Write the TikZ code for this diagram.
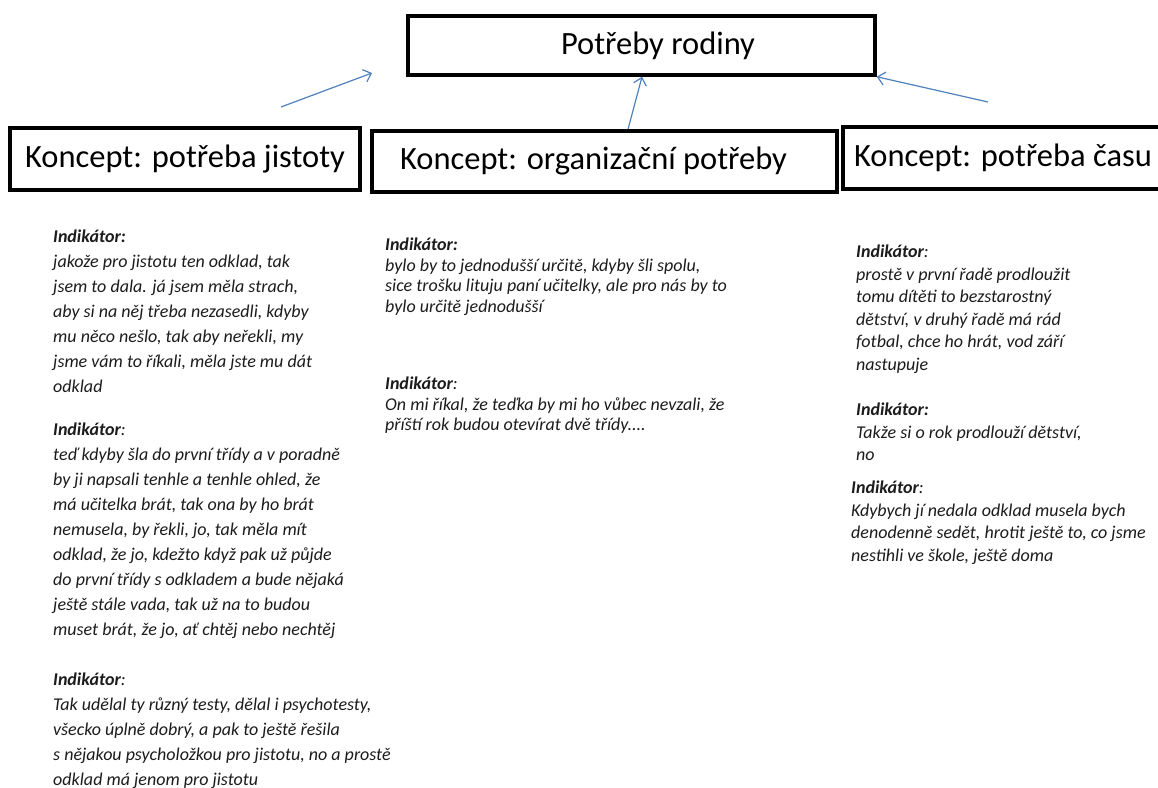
\documentclass[tikz,border=0pt]{standalone}
\usepackage{fontspec}
\setmainfont{Carlito}[ItalicFont=Carlito Italic, BoldFont=Carlito Bold, BoldItalicFont=Carlito Bold Italic]
\usepackage{tikz}
\usetikzlibrary{arrows.meta, positioning}
\usepackage{xcolor}
\definecolor{linkblue}{RGB}{79,129,189}
\definecolor{quotegray}{RGB}{28,28,28}

\begin{document}
\begin{tikzpicture}[
    x=1pt, y=-1pt,
    concept/.style={rectangle, draw, line width=3.5pt, minimum height=62pt, inner sep=0pt, font=\fontsize{32.5}{38}\selectfont},
    indicator/.style={anchor=north west, align=left, inner sep=0pt, text=quotegray, font=\fontsize{18}{#1}\selectfont\itshape},
    link/.style={-{Straight Barb[length=7pt,width=13pt]}, line width=1.2pt, linkblue}
]
\fill[white] (0,0) rectangle (1158,787);
\useasboundingbox (0,0) rectangle (1158,787);

% concepts
\node[concept, minimum width=467pt, minimum height=59pt] (rodina) at (641.5,45.5) {\hspace*{33pt}Potřeby rodiny};
\node[concept, minimum width=350pt] (jistota) at (185,159) {Koncept: potřeba jistoty};
\node[concept, minimum width=465pt, minimum height=61pt] (organizace) at (604.5,161.5) {\hspace*{-22pt}Koncept: organizační potřeby};
\node[concept, minimum width=329pt] (cas) at (1007.5,158) {\hspace*{-9pt}Koncept: potřeba času};

\coordinate (jistota tail) at (281,107);
\coordinate (jistota head) at (372,73);
\coordinate (cas tail) at (988,102);
\draw[link] (jistota tail) -- (jistota head);
\draw[link] ([xshift=23.5pt]organizace.north) -- ([xshift=0.5pt]rodina.south);
\draw[link] (cas tail) -- (rodina.south east);

% indicators
\node[indicator=25] (jistota1) at (53,230) {\textbf{Indikátor:}\\ jakože pro jistotu ten odklad, tak\\ jsem to dala. já jsem měla strach,\\ aby si na něj třeba nezasedli, kdyby\\ mu něco nešlo, tak aby neřekli, my\\ jsme vám to říkali, měla jste mu dát\\ odklad};
\node[indicator=25] (jistota2) at (53,423) {\textbf{Indikátor}:\\ teď kdyby šla do první třídy a v poradně\\ by ji napsali tenhle a tenhle ohled, že\\ má učitelka brát, tak ona by ho brát\\ nemusela, by řekli, jo, tak měla mít\\ odklad, že jo, kdežto když pak už půjde\\ do první třídy s odkladem a bude nějaká\\ ještě stále vada, tak už na to budou\\ muset brát, že jo, ať chtěj nebo nechtěj};
\node[indicator=25] (jistota3) at (53,673) {\textbf{Indikátor}:\\ Tak udělal ty různý testy, dělal i psychotesty,\\ všecko úplně dobrý, a pak to ještě řešila\\ s nějakou psycholožkou pro jistotu, no a prostě\\ odklad má jenom pro jistotu};

\node[indicator=20.5] (organizace1) at (385,238) {\textbf{Indikátor:}\\ bylo by to jednodušší určitě, kdyby šli spolu,\\ sice trošku lituju paní učitelky, ale pro nás by to\\ bylo určitě jednodušší};
\node[indicator=20.5] (organizace2) at (385,377) {\textbf{Indikátor}:\\ On mi říkal, že teďka by mi ho vůbec nevzali, že\\ příští rok budou otevírat dvě třídy....};

\node[indicator=22.5] (cas1) at (856,245) {\textbf{Indikátor}:\\ prostě v první řadě prodloužit\\ tomu dítěti to bezstarostný\\ dětství, v druhý řadě má rád\\ fotbal, chce ho hrát, vod září\\ nastupuje};
\node[indicator=22.5] (cas2) at (856,403) {\textbf{Indikátor:}\\ Takže si o rok prodlouží dětství,\\ no};
\node[indicator=22.5] (cas3) at (851,481) {\textbf{Indikátor}:\\ Kdybych jí nedala odklad musela bych\\ denodenně sedět, hrotit ještě to, co jsme\\ nestihli ve škole, ještě doma};

\end{tikzpicture}
\end{document}
